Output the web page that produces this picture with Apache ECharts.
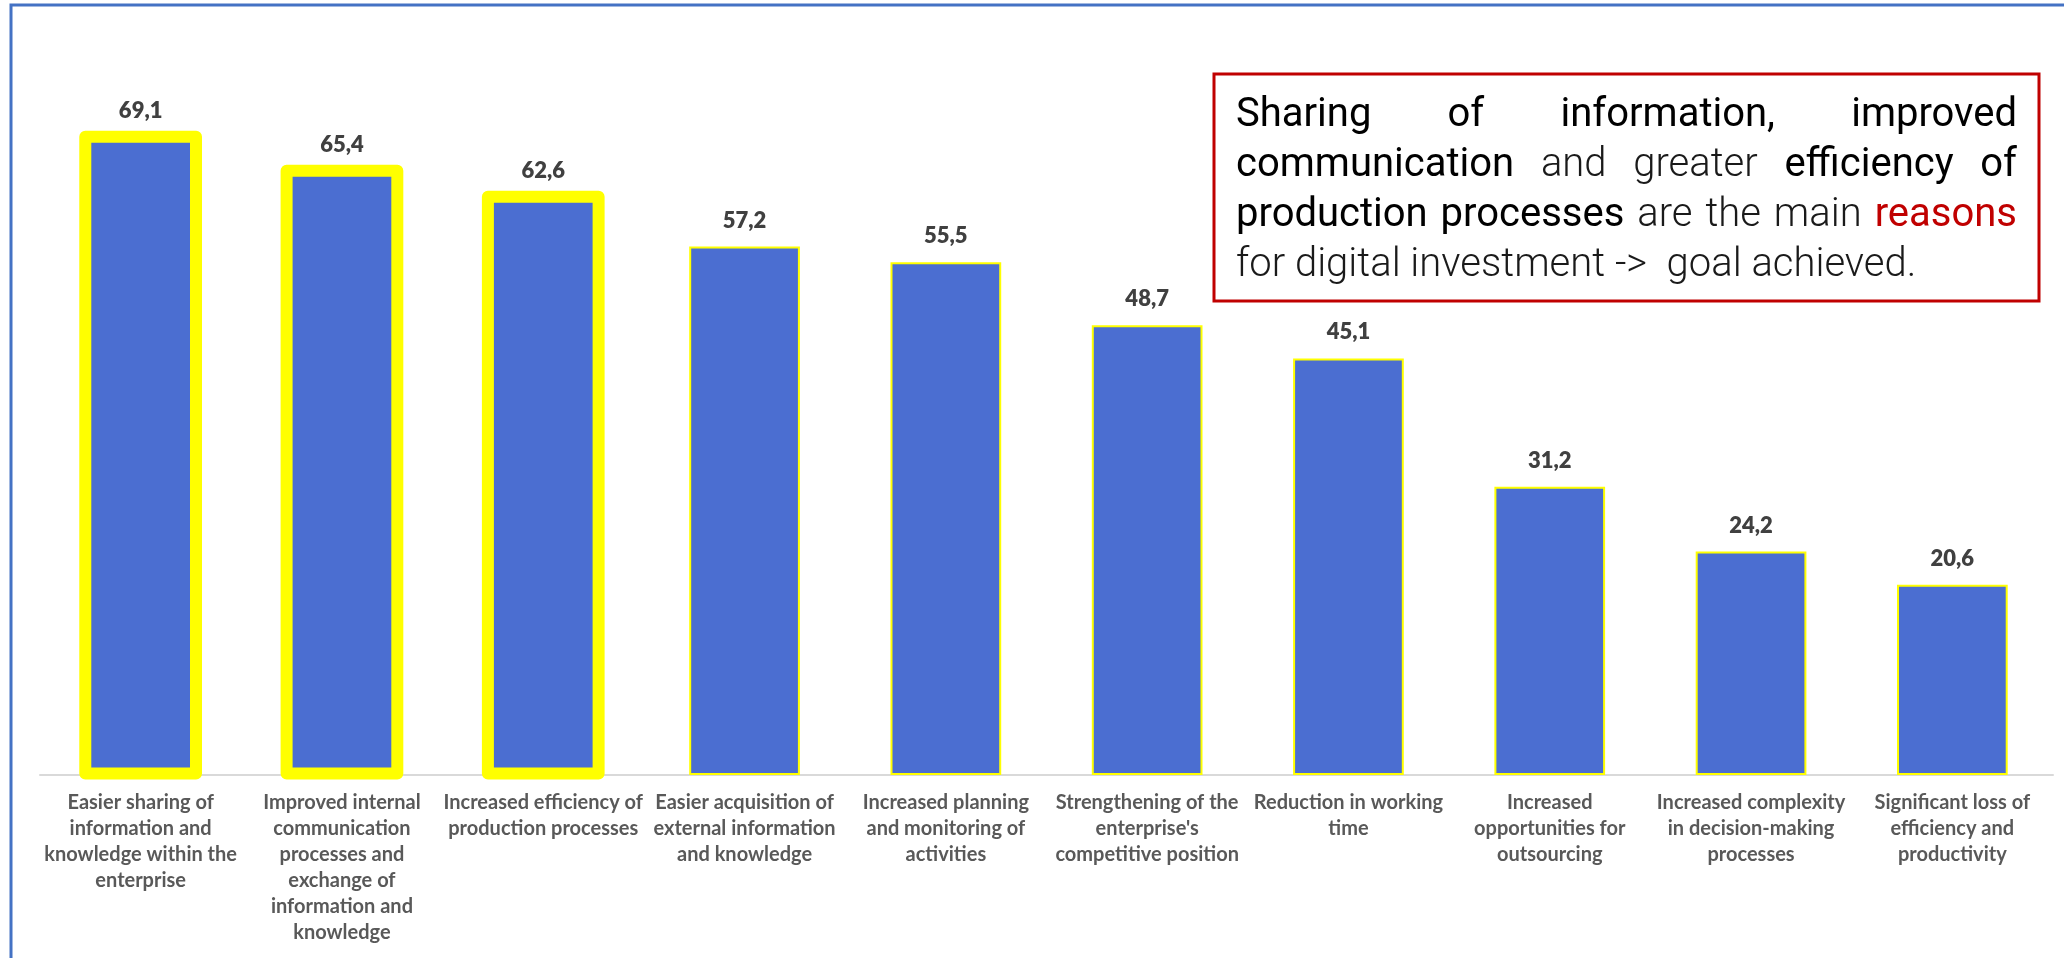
<!DOCTYPE html>
<html>
<head>
<meta charset="utf-8">
<title>Reasons for digital investment</title>
<script src="https://cdn.jsdelivr.net/npm/echarts@6/dist/echarts.min.js"></script>
<style>
  html, body { margin: 0; padding: 0; background: #ffffff; }
  #chart { width: 2064px; height: 958px; }
</style>
</head>
<body>
<div id="chart"></div>
<script>
// Categories (axis labels, with their line breaks)
const categories = [
  'Easier sharing of\ninformation and\nknowledge within the\nenterprise',
  'Improved internal\ncommunication\nprocesses and\nexchange of\ninformation and\nknowledge',
  'Increased efficiency of\nproduction processes',
  'Easier acquisition of\nexternal information\nand knowledge',
  'Increased planning\nand monitoring of\nactivities',
  "Strengthening of the\nenterprise's\ncompetitive position",
  'Reduction in working\ntime',
  'Increased\nopportunities for\noutsourcing',
  'Increased complexity\nin decision-making\nprocesses',
  'Significant loss of\nefficiency and\nproductivity'
];

// Share of enterprises (%)
const values = [69.1, 65.4, 62.6, 57.2, 55.5, 48.7, 45.1, 31.2, 24.2, 20.6];

// Callout text, line by line; each word tagged b = emphasis, l = light, r = red
const noteLines = [
  [['Sharing', 'b'], ['of', 'b'], ['information,', 'b'], ['improved', 'b']],
  [['communication', 'b'], ['and', 'l'], ['greater', 'l'], ['efficiency', 'b'], ['of', 'b']],
  [['production', 'b'], ['processes', 'b'], ['are', 'l'], ['the', 'l'], ['main', 'l'], ['reasons', 'r']],
  [['for', 'l'], ['digital', 'l'], ['investment', 'l'], ['->', 'l'], [' goal', 'l'], ['achieved.', 'l']]
];

// The first bars get a heavy yellow frame
const HIGHLIGHT_COUNT = 3;
const BAR_COLOR = '#4B6ED1';
const BAR_EDGE = '#FFFF00';
const BAR_RATIO = 0.55;
const LABEL_FONT = 'Lato, "Open Sans", sans-serif';

const chart = echarts.init(document.getElementById('chart'), null, { renderer: 'canvas' });

// ---- callout box layout (justified text) ----
const BOX = { x: 1214, y: 74, w: 825, h: 227 };
const TEXT_LEFT = 1236, TEXT_RIGHT = 2017;
const LINE_Y = [116, 166, 216, 266];
const NOTE_FONT = 'Roboto, "Noto Sans", sans-serif';
const NOTE_SIZE = 40;
const noteStyles = {
  b: { fontWeight: 400, fill: '#000000' },
  l: { fontWeight: 300, fill: '#1a1a1a' },
  r: { fontWeight: 400, fill: '#C00000' }
};
const measureCtx = document.createElement('canvas').getContext('2d');
function textWidth(str, weight) {
  measureCtx.font = weight + ' ' + NOTE_SIZE + 'px ' + NOTE_FONT;
  return measureCtx.measureText(str).width;
}

const noteTexts = [];
noteLines.forEach(function (line, li) {
  const last = li === noteLines.length - 1;
  const widths = line.map(function (w) { return textWidth(w[0], noteStyles[w[1]].fontWeight); });
  const total = widths.reduce(function (a, b) { return a + b; }, 0);
  const gap = last ? textWidth(' ', 300) : (TEXT_RIGHT - TEXT_LEFT - total) / (line.length - 1);
  let x = TEXT_LEFT;
  line.forEach(function (w, wi) {
    const st = noteStyles[w[1]];
    noteTexts.push({
      type: 'text',
      x: x,
      y: LINE_Y[li],
      style: {
        text: w[0],
        fontSize: NOTE_SIZE,
        fontFamily: NOTE_FONT,
        fontWeight: st.fontWeight,
        fill: st.fill,
        verticalAlign: 'middle',
        align: 'left'
      }
    });
    x += widths[wi] + gap;
  });
});

// Heavy frame centred on the edge of a highlighted bar
function renderFrame(params, api) {
  const idx = api.value(0);
  const top = api.coord([idx, api.value(1)]);
  const base = api.coord([idx, 0]);
  const w = api.size([1, 0])[0] * BAR_RATIO;
  return {
    type: 'rect',
    shape: { x: top[0] - w / 2, y: top[1], width: w, height: base[1] - top[1] - 1.5 },
    style: { fill: null, stroke: BAR_EDGE, lineWidth: 12, lineJoin: 'round' },
    z2: 10
  };
}

const option = {
  backgroundColor: '#ffffff',
  animation: false,
  grid: { left: 40, right: 11, top: 36, bottom: 183, containLabel: false },
  xAxis: {
    type: 'category',
    data: categories,
    axisLine: { show: true, lineStyle: { color: '#D9D9D9', width: 2 } },
    axisTick: { show: false },
    axisLabel: {
      interval: 0,
      margin: 15,
      color: '#595959',
      fontFamily: LABEL_FONT,
      fontWeight: 'bold',
      fontSize: 20,
      lineHeight: 26,
      align: 'center'
    }
  },
  yAxis: {
    type: 'value',
    min: 0,
    max: 80,
    show: false,
    splitLine: { show: false }
  },
  series: [{
    type: 'bar',
    barWidth: (BAR_RATIO * 100) + '%',
    itemStyle: { color: BAR_COLOR, borderColor: BAR_EDGE, borderWidth: 2 },
    data: values,
    label: {
      show: true,
      position: 'top',
      distance: 15,
      color: '#404040',
      fontFamily: LABEL_FONT,
      fontWeight: 800,
      fontSize: 22,
      formatter: function (p) { return p.value.toFixed(1).replace('.', ','); }
    },
    z: 2
  }, {
    type: 'custom',
    renderItem: renderFrame,
    data: values.slice(0, HIGHLIGHT_COUNT).map(function (v, i) { return [i, v]; }),
    encode: { x: 0, y: 1 },
    z: 3,
    silent: true
  }],
  graphic: [
    // frame lines along the top and left edge
    {
      type: 'polyline',
      shape: { points: [[11, 958], [11, 5], [2064, 5]] },
      style: { stroke: '#4472C4', lineWidth: 3, fill: null }
    },
    // callout box
    {
      type: 'rect',
      shape: { x: BOX.x, y: BOX.y, width: BOX.w, height: BOX.h },
      style: { stroke: '#C00000', lineWidth: 3, fill: '#ffffff' }
    }
  ].concat(noteTexts)
};

chart.setOption(option);
</script>
</body>
</html>
